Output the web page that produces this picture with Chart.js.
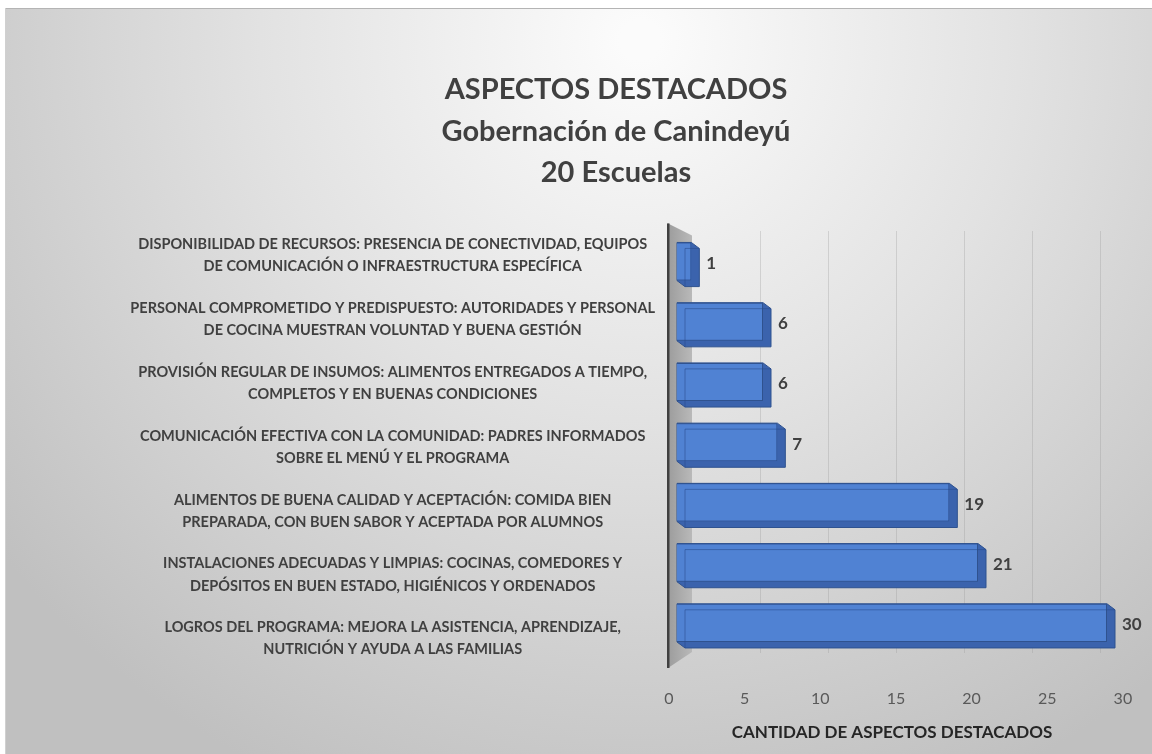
<!DOCTYPE html>
<html>
<head>
<meta charset="utf-8">
<script src="https://cdn.jsdelivr.net/npm/chart.js@4.4.1/dist/chart.umd.min.js"></script>
<style>
  html, body { margin: 0; padding: 0; background: #fff; }
  #wrap { width: 1152px; height: 754px; }
</style>
</head>
<body>
<div id="wrap"><canvas id="myChart" width="1152" height="754"></canvas></div>
<script>
const categories = [
  ["DISPONIBILIDAD DE RECURSOS: PRESENCIA DE CONECTIVIDAD, EQUIPOS", "DE COMUNICACIÓN O INFRAESTRUCTURA ESPECÍFICA"],
  ["PERSONAL COMPROMETIDO Y PREDISPUESTO: AUTORIDADES Y PERSONAL", "DE COCINA MUESTRAN VOLUNTAD Y BUENA GESTIÓN"],
  ["PROVISIÓN REGULAR DE INSUMOS: ALIMENTOS ENTREGADOS A TIEMPO,", "COMPLETOS Y EN BUENAS CONDICIONES"],
  ["COMUNICACIÓN EFECTIVA CON LA COMUNIDAD: PADRES INFORMADOS", "SOBRE EL MENÚ Y EL PROGRAMA"],
  ["ALIMENTOS DE BUENA CALIDAD Y ACEPTACIÓN: COMIDA BIEN", "PREPARADA, CON BUEN SABOR Y ACEPTADA POR ALUMNOS"],
  ["INSTALACIONES ADECUADAS Y LIMPIAS: COCINAS, COMEDORES Y", "DEPÓSITOS EN BUEN ESTADO, HIGIÉNICOS Y ORDENADOS"],
  ["LOGROS DEL PROGRAMA: MEJORA LA ASISTENCIA, APRENDIZAJE,", "NUTRICIÓN Y AYUDA A LAS FAMILIAS"]
];
const cantidades = [1, 6, 6, 7, 19, 21, 30];
const xTicks = [0, 5, 10, 15, 20, 25, 30];
const titleLines = ["ASPECTOS DESTACADOS", "Gobernación de Canindeyú", "20 Escuelas"];
const axisTitle = "CANTIDAD DE ASPECTOS DESTACADOS";

const FONT = "Lato, 'Open Sans', sans-serif";
const TXT = "#404040";
const DX = 8, DY = 6; // profundidad de las barras

// fondo gris con degradado radial + pared lateral
const fondo = {
  id: 'fondo',
  beforeDraw(chart) {
    const c = chart.ctx;
    c.save();
    c.fillStyle = '#ffffff';
    c.fillRect(0, 0, chart.width, chart.height);
    const g = c.createRadialGradient(640, 40, 20, 640, 40, 820);
    g.addColorStop(0, '#fbfbfb');
    g.addColorStop(0.45, '#e2e2e2');
    g.addColorStop(1, '#c0c0c0');
    c.fillStyle = g;
    c.fillRect(5, 8, chart.width - 5, chart.height - 8);
    c.fillStyle = '#b4b4b4';
    c.fillRect(5, 8, chart.width - 5, 1);
    c.fillStyle = '#d0d0d0';
    c.fillRect(5, 8, 1, chart.height - 8);
    c.restore();
  },
  beforeDatasetsDraw(chart) {
    const a = chart.chartArea, c = chart.ctx;
    c.save();
    const g = c.createLinearGradient(a.left - 9, 0, a.left + 15, 0);
    g.addColorStop(0, '#9c9c9c');
    g.addColorStop(1, '#b9b9b9');
    c.fillStyle = g;
    c.beginPath();
    c.moveTo(a.left - 9, a.top - 8);
    c.lineTo(a.left + 15, a.top + 4);
    c.lineTo(a.left + 15, a.bottom - 1);
    c.lineTo(a.left - 9, a.bottom + 15);
    c.closePath();
    c.fill();
    c.fillStyle = '#404040';
    c.fillRect(a.left - 10, a.top - 8, 2.5, a.bottom - a.top + 23);

    // fondo y cara lateral de cada barra (detrás de la cara frontal)
    chart.getDatasetMeta(0).data.forEach((bar) => {
      const p = bar.getProps(['x', 'y', 'base', 'height'], true);
      const T = p.y - p.height / 2, B = p.y + p.height / 2;
      const L = p.base, R = p.x;
      c.fillStyle = '#3b63ad';
      c.strokeStyle = '#2f528f';
      c.lineWidth = 1;
      c.beginPath();
      c.moveTo(L, T);
      c.lineTo(R, T);
      c.lineTo(R + DX, T + DY);
      c.lineTo(R + DX, B + DY);
      c.lineTo(L + DX, B + DY);
      c.lineTo(L, B);
      c.closePath();
      c.fill(); c.stroke();
    });
    c.restore();
  }
};

// aristas traseras visibles + etiquetas de valor
const barras3d = {
  id: 'barras3d',
  afterDatasetsDraw(chart) {
    const c = chart.ctx;
    c.save();
    chart.getDatasetMeta(0).data.forEach((bar, i) => {
      const p = bar.getProps(['x', 'y', 'base', 'height'], true);
      const T = p.y - p.height / 2, B = p.y + p.height / 2;
      const L = p.base, R = p.x;
      c.strokeStyle = 'rgba(40,75,140,0.55)';
      c.lineWidth = 1;
      c.beginPath();
      c.moveTo(R + DX, T + DY);
      c.lineTo(L + DX, T + DY);
      c.lineTo(L + DX, B + DY);
      c.stroke();
      c.fillStyle = TXT;
      c.font = "bold 17px " + FONT;
      c.textAlign = 'left';
      c.textBaseline = 'middle';
      c.fillText(String(cantidades[i]), R + DX + 7, p.y + 2);
    });
    c.restore();
  }
};

const ctx = document.getElementById("myChart").getContext("2d");

let chart = new Chart(ctx, {
  type: 'bar',
  data: {
    labels: categories,
    datasets: [{
      label: 'Cantidad',
      data: cantidades,
      backgroundColor: 'rgba(82,132,214,0.92)',
      borderColor: '#2f528f',
      borderWidth: 1,
      barPercentage: 0.72,
      categoryPercentage: 0.88
    }]
  },
  plugins: [fondo, barras3d],
  options: {
    indexAxis: 'y',
    responsive: false,
    animation: false,
    layout: { padding: { top: 56, left: 125, right: 45, bottom: 11 } },
    plugins: {
      legend: { display: false },
      tooltip: { enabled: false },
      title: {
        display: true,
        text: titleLines,
        color: TXT,
        font: { family: FONT, size: 29, weight: 'bold', lineHeight: 1.43 },
        padding: { top: 13, bottom: 38 }
      }
    },
    scales: {
      x: { min: 0, max: 30, display: false },
      // eje de etiquetas numéricas (plano frontal, algo más ancho)
      xTicks: {
        type: 'linear',
        position: 'bottom',
        offset: false,
        min: 0.53,
        max: 28.95,
        afterBuildTicks(scale) { scale.ticks = xTicks.map(v => ({ value: v })); },
        afterFit(scale) {
          scale.height = 90;
          scale.paddingLeft = 0;
          scale.paddingRight = 0;
        },
        ticks: { color: '#595959', font: { family: FONT, size: 16 }, padding: 28 },
        grid: { display: false },
        border: { display: false },
        title: {
          display: true,
          text: axisTitle,
          color: '#262626',
          font: { family: FONT, size: 17, weight: 'bold' },
          padding: { top: 23, bottom: 0 }
        }
      },
      // líneas de cuadrícula en el plano del fondo
      xGrid: {
        type: 'linear',
        position: 'top',
        offset: false,
        min: -1.1,
        max: 30.5,
        afterBuildTicks(scale) { scale.ticks = xTicks.slice(1).map(v => ({ value: v })); },
        afterFit(scale) { scale.height = 0; },
        ticks: { display: false },
        grid: { color: 'rgba(150,150,150,0.3)', drawTicks: false },
        border: { display: false }
      },
      y: { display: false },
      // etiquetas de categoría (perspectiva: algo más espaciadas que las barras)
      yLabels: {
        type: 'linear',
        position: 'left',
        offset: false,
        reverse: true,
        min: 0,
        max: 6.6,
        afterBuildTicks(scale) { scale.ticks = categories.map((c, i) => ({ value: i + 0.376 })); },
        afterFit(scale) { scale.width = 552; },
        ticks: {
          color: TXT,
          crossAlign: 'center',
          padding: 14,
          autoSkip: false,
          callback: (value, index) => categories[index],
          font: { family: FONT, size: 14.5, weight: 'bold', lineHeight: 1.52 }
        },
        grid: { display: false, offset: false },
        border: { display: false }
      }
    }
  }
});
</script>
</body>
</html>
